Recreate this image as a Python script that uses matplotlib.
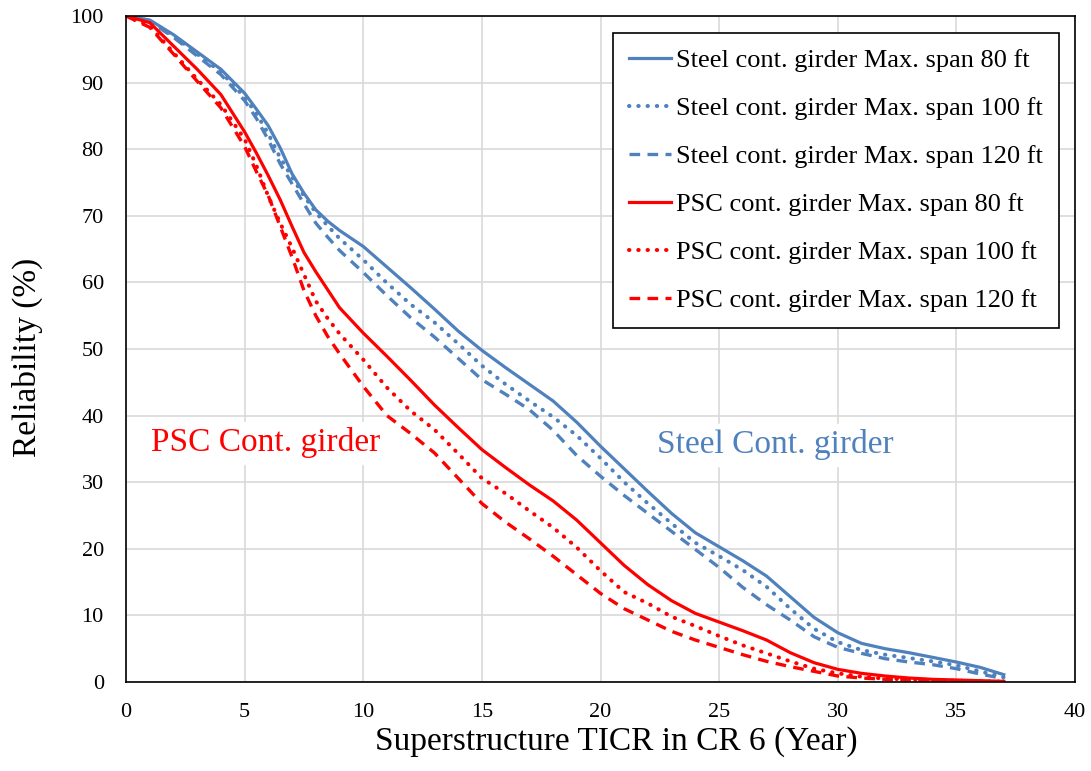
import numpy as np
import matplotlib
matplotlib.use('Agg')
import matplotlib.pyplot as plt

plt.rcParams['font.family'] = ['Liberation Serif', 'DejaVu Serif']

# 数据（按图读取，5~9年处加密）
years = [0, 1, 2, 3, 4, 5, 5.5, 6, 6.5, 7, 7.5, 8, 8.5, 9,
         10, 11, 12, 13, 14, 15, 16, 17, 18, 19, 20, 21, 22, 23, 24,
         25, 26, 27, 28, 29, 30, 31, 32, 33, 34, 35, 36, 37]

steel_80 = [100, 99.4, 97.2, 94.6, 92, 88.4, 86, 83.5, 80.2, 76.3, 73.4, 70.9, 69.2, 67.8,
            65.4, 62.3, 59.2, 56, 52.7, 49.8, 47.2, 44.7, 42.2, 39, 35.4, 32, 28.6, 25.3, 22.4,
            20.3, 18.2, 15.9, 12.8, 9.7, 7.4, 5.8, 5, 4.4, 3.7, 3, 2.2, 1.1]
steel_100 = [100, 99.3, 97, 94.3, 91.6, 87.8, 85.3, 82.3, 78.7, 75.8, 73, 70.5, 68.5, 66.6,
             63.4, 59.9, 56.7, 54, 50.8, 47.5, 44.7, 42.2, 39.8, 37, 33.6, 30, 26.8, 23.8, 20.9,
             18.9, 16.8, 14.3, 11, 8, 6, 4.8, 4.1, 3.6, 3.1, 2.5, 1.6, 0.7]
steel_120 = [100, 99.2, 96.8, 94, 91.2, 87.3, 84.6, 81.4, 77.8, 74.8, 71.8, 68.9, 66.8, 64.8,
             61.5, 58, 54.7, 51.8, 48.6, 45.4, 43.2, 40.9, 37.8, 34, 30.9, 28, 25.3, 22.6, 19.9,
             17.2, 14.2, 11.6, 9.3, 6.8, 5.2, 4.3, 3.5, 3, 2.6, 2, 1.2, 0.5]
psc_80 = [100, 99, 95.5, 92, 88.2, 82.6, 79.4, 76, 72.4, 68.4, 64.5, 61.6, 58.9, 56.2,
          52.4, 48.9, 45.3, 41.6, 38.2, 34.9, 32.2, 29.6, 27.2, 24.3, 20.9, 17.5, 14.6, 12.2, 10.3,
          9, 7.7, 6.3, 4.4, 2.9, 1.9, 1.3, 0.9, 0.6, 0.4, 0.3, 0.2, 0.1]
psc_100 = [100, 98.5, 94.5, 90.5, 86.7, 81.5, 77.5, 72.9, 68.9, 65.2, 61.2, 57.2, 54.6, 52.3,
           48.4, 44.2, 40.7, 37.9, 34.3, 30.6, 28.3, 25.7, 23.2, 20.2, 16.7, 13.5, 11.8, 9.8, 8.4,
           6.9, 5.5, 4.3, 3.1, 2, 1.3, 0.8, 0.5, 0.4, 0.3, 0.2, 0.1, 0.05]
psc_120 = [100, 98.3, 94.3, 90.2, 86.2, 80.4, 76.6, 73, 68.4, 63.8, 58.8, 55, 51.9, 49.3,
           44.4, 40, 37.3, 34.4, 30.6, 26.8, 24, 21.5, 18.9, 16.1, 13.3, 11, 9.3, 7.6, 6.3,
           5.2, 4.1, 3.1, 2.3, 1.6, 0.9, 0.6, 0.4, 0.3, 0.2, 0.1, 0.05, 0]

blue = '#4F81BD'
red = '#FF0000'

solid = dict(linestyle='-', linewidth=2.3)
dotted = dict(linestyle=(0, (0.1, 2.2)), linewidth=2.9, dash_capstyle='round')
dashed = dict(linestyle=(0, (3.2, 2.2)), linewidth=2.4, dash_capstyle='butt')

series = [
    ('Steel cont. girder Max. span 80 ft', steel_80, blue, solid),
    ('Steel cont. girder Max. span 100 ft', steel_100, blue, dotted),
    ('Steel cont. girder Max. span 120 ft', steel_120, blue, dashed),
    ('PSC cont. girder Max. span 80 ft', psc_80, red, solid),
    ('PSC cont. girder Max. span 100 ft', psc_100, red, dotted),
    ('PSC cont. girder Max. span 120 ft', psc_120, red, dashed),
]

fig = plt.figure(figsize=(10.91, 7.71), dpi=100)
ax = fig.add_axes([126 / 1091, 89 / 771, 949 / 1091, 666 / 771])

for label, vals, color, style in series:
    ax.plot(years, vals, color=color, label=label, **style)

ax.set_xlim(0, 40)
ax.set_ylim(0, 100)
ax.set_xticks(np.arange(0, 41, 5))
ax.set_yticks(np.arange(0, 101, 10))
ax.tick_params(axis='y', length=0, labelsize=16, pad=16)
ax.tick_params(axis='x', length=0, labelsize=16, pad=15)
ax.grid(True, color='#D9D9D9', linewidth=1.2)
ax.set_axisbelow(True)
for sp in ax.spines.values():
    sp.set_color('black')
    sp.set_linewidth(1.2)

ax.set_xlabel('Superstructure TICR in CR 6 (Year)', fontsize=24, va='center')
ax.xaxis.set_label_coords(0.517, -0.09)
ax.set_ylabel('Reliability (%)', fontsize=24, va='center')
ax.yaxis.set_label_coords(-0.104, 0.487)

ax.text(5.9, 35.9, 'PSC Cont. girder', color=red, fontsize=24,
        ha='center', va='center', backgroundcolor='white')
ax.text(27.35, 35.6, 'Steel Cont. girder', color=blue, fontsize=24,
        ha='center', va='center', backgroundcolor='white')

leg = ax.legend(loc='upper right', bbox_to_anchor=(0.983, 0.9745), fontsize=19,
                frameon=True, fancybox=False, handlelength=1.6,
                handletextpad=0.2, labelspacing=0.93, borderpad=0.6,
                borderaxespad=0)
leg.get_frame().set_edgecolor('black')
leg.get_frame().set_linewidth(1.2)
leg.get_frame().set_alpha(1)

fig.savefig('out.png', dpi=100)
